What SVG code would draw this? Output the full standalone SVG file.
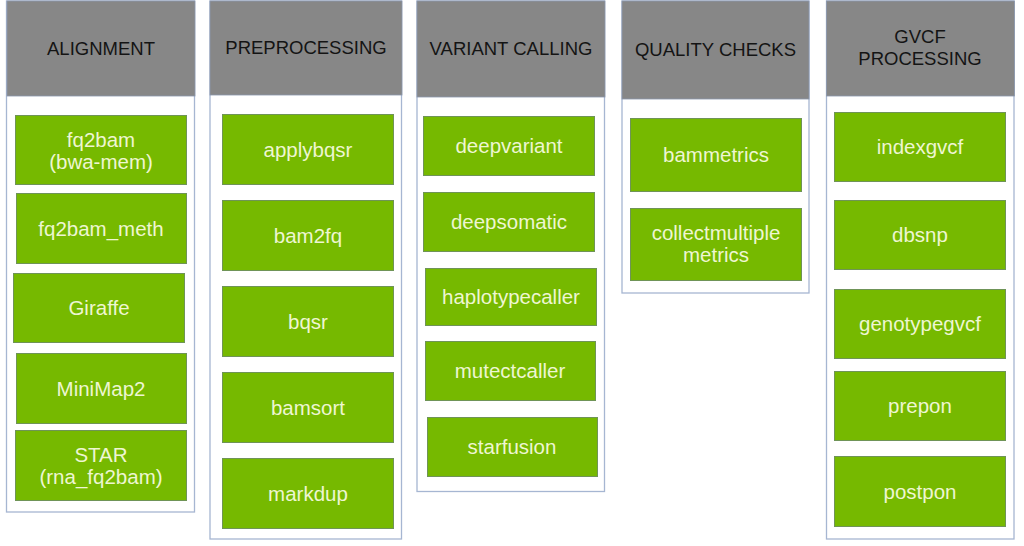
<svg xmlns="http://www.w3.org/2000/svg" width="1024" height="546" viewBox="0 0 1024 546">
<style>
.col{fill:#ffffff;stroke:#a6b6d2;stroke-width:1.3}
.hdr{fill:#878787;stroke:#8a97ad;stroke-width:0.8}
.ht{font-family:"Liberation Sans",Arial,sans-serif;font-size:18.5px;fill:#141414;text-anchor:middle}
.box{fill:#76b900;stroke:#6f9457;stroke-width:1}
.bt{font-family:"Liberation Sans",Arial,sans-serif;font-size:20.5px;fill:#eef6d2;text-anchor:middle}
</style>
<rect width="1024" height="546" fill="#ffffff"/>

<g id="col-alignment">
<rect class="col" x="6.5" y="1" width="188" height="511"/>
<rect class="hdr" x="7" y="1" width="188" height="95"/>
<text class="ht" x="101" y="55">ALIGNMENT</text>
</g>
<g id="n-fq2bam"><rect class="box" x="15.5" y="115.5" width="171" height="69"/><text class="bt" x="101" y="147">fq2bam</text><text class="bt" x="101" y="169">(bwa-mem)</text></g>
<g id="n-fq2bam_meth"><rect class="box" x="16.5" y="193.5" width="170" height="70"/><text class="bt" x="101" y="235.5">fq2bam_meth</text></g>
<g id="n-giraffe"><rect class="box" x="13.5" y="273.5" width="171" height="69"/><text class="bt" x="99" y="315">Giraffe</text></g>
<g id="n-minimap2"><rect class="box" x="16.5" y="353.5" width="170" height="70"/><text class="bt" x="101" y="395.5">MiniMap2</text></g>
<g id="n-star"><rect class="box" x="15.5" y="430.5" width="171" height="70"/><text class="bt" x="101" y="461.5">STAR</text><text class="bt" x="101" y="483.5">(rna_fq2bam)</text></g>

<g id="col-preprocessing">
<rect class="col" x="210" y="1" width="191.5" height="538"/>
<rect class="hdr" x="210" y="1" width="192" height="94"/>
<text class="ht" x="306" y="54">PREPROCESSING</text>
</g>
<g id="n-applybqsr"><rect class="box" x="222.5" y="114.5" width="171" height="70"/><text class="bt" x="308" y="156.5">applybqsr</text></g>
<g id="n-bam2fq"><rect class="box" x="222.5" y="200.5" width="171" height="70"/><text class="bt" x="308" y="242.5">bam2fq</text></g>
<g id="n-bqsr"><rect class="box" x="222.5" y="286.5" width="171" height="70"/><text class="bt" x="308" y="328.5">bqsr</text></g>
<g id="n-bamsort"><rect class="box" x="222.5" y="372.5" width="171" height="70"/><text class="bt" x="308" y="414.5">bamsort</text></g>
<g id="n-markdup"><rect class="box" x="222.5" y="458.5" width="171" height="70"/><text class="bt" x="308" y="500.5">markdup</text></g>

<g id="col-variant-calling">
<rect class="col" x="417" y="1" width="187.5" height="490.5"/>
<rect class="hdr" x="417" y="1" width="188" height="96"/>
<text class="ht" x="511" y="55">VARIANT CALLING</text>
</g>
<g id="n-deepvariant"><rect class="box" x="423.5" y="116.5" width="171" height="59"/><text class="bt" x="509" y="153">deepvariant</text></g>
<g id="n-deepsomatic"><rect class="box" x="423.5" y="192.5" width="171" height="59"/><text class="bt" x="509" y="229">deepsomatic</text></g>
<g id="n-haplotypecaller"><rect class="box" x="425.5" y="268.5" width="171" height="57"/><text class="bt" x="511" y="304">haplotypecaller</text></g>
<g id="n-mutectcaller"><rect class="box" x="425.5" y="341.5" width="170" height="59"/><text class="bt" x="510" y="378">mutectcaller</text></g>
<g id="n-starfusion"><rect class="box" x="427.5" y="417.5" width="170" height="59"/><text class="bt" x="512" y="454">starfusion</text></g>

<g id="col-quality-checks">
<rect class="col" x="622" y="1" width="187" height="292"/>
<rect class="hdr" x="622" y="1" width="187" height="98"/>
<text class="ht" x="715.5" y="56">QUALITY CHECKS</text>
</g>
<g id="n-bammetrics"><rect class="box" x="630.5" y="118.5" width="171" height="73"/><text class="bt" x="716" y="162">bammetrics</text></g>
<g id="n-collectmultiple"><rect class="box" x="630.5" y="208.5" width="171" height="72"/><text class="bt" x="716" y="240">collectmultiple</text><text class="bt" x="716" y="262">metrics</text></g>

<g id="col-gvcf">
<rect class="col" x="826.5" y="1" width="187.5" height="538"/>
<rect class="hdr" x="826.5" y="1" width="188" height="95"/>
<text class="ht" x="920" y="43">GVCF</text>
<text class="ht" x="920" y="65">PROCESSING</text>
</g>
<g id="n-indexgvcf"><rect class="box" x="834.5" y="112.5" width="171" height="69"/><text class="bt" x="920" y="154">indexgvcf</text></g>
<g id="n-dbsnp"><rect class="box" x="834.5" y="200.5" width="171" height="69"/><text class="bt" x="920" y="242">dbsnp</text></g>
<g id="n-genotypegvcf"><rect class="box" x="834.5" y="289.5" width="171" height="69"/><text class="bt" x="920" y="331">genotypegvcf</text></g>
<g id="n-prepon"><rect class="box" x="834.5" y="371.5" width="171" height="69"/><text class="bt" x="920" y="413">prepon</text></g>
<g id="n-postpon"><rect class="box" x="834.5" y="456.5" width="171" height="70"/><text class="bt" x="920" y="498.5">postpon</text></g>

<g id="connectors"></g>
</svg>
